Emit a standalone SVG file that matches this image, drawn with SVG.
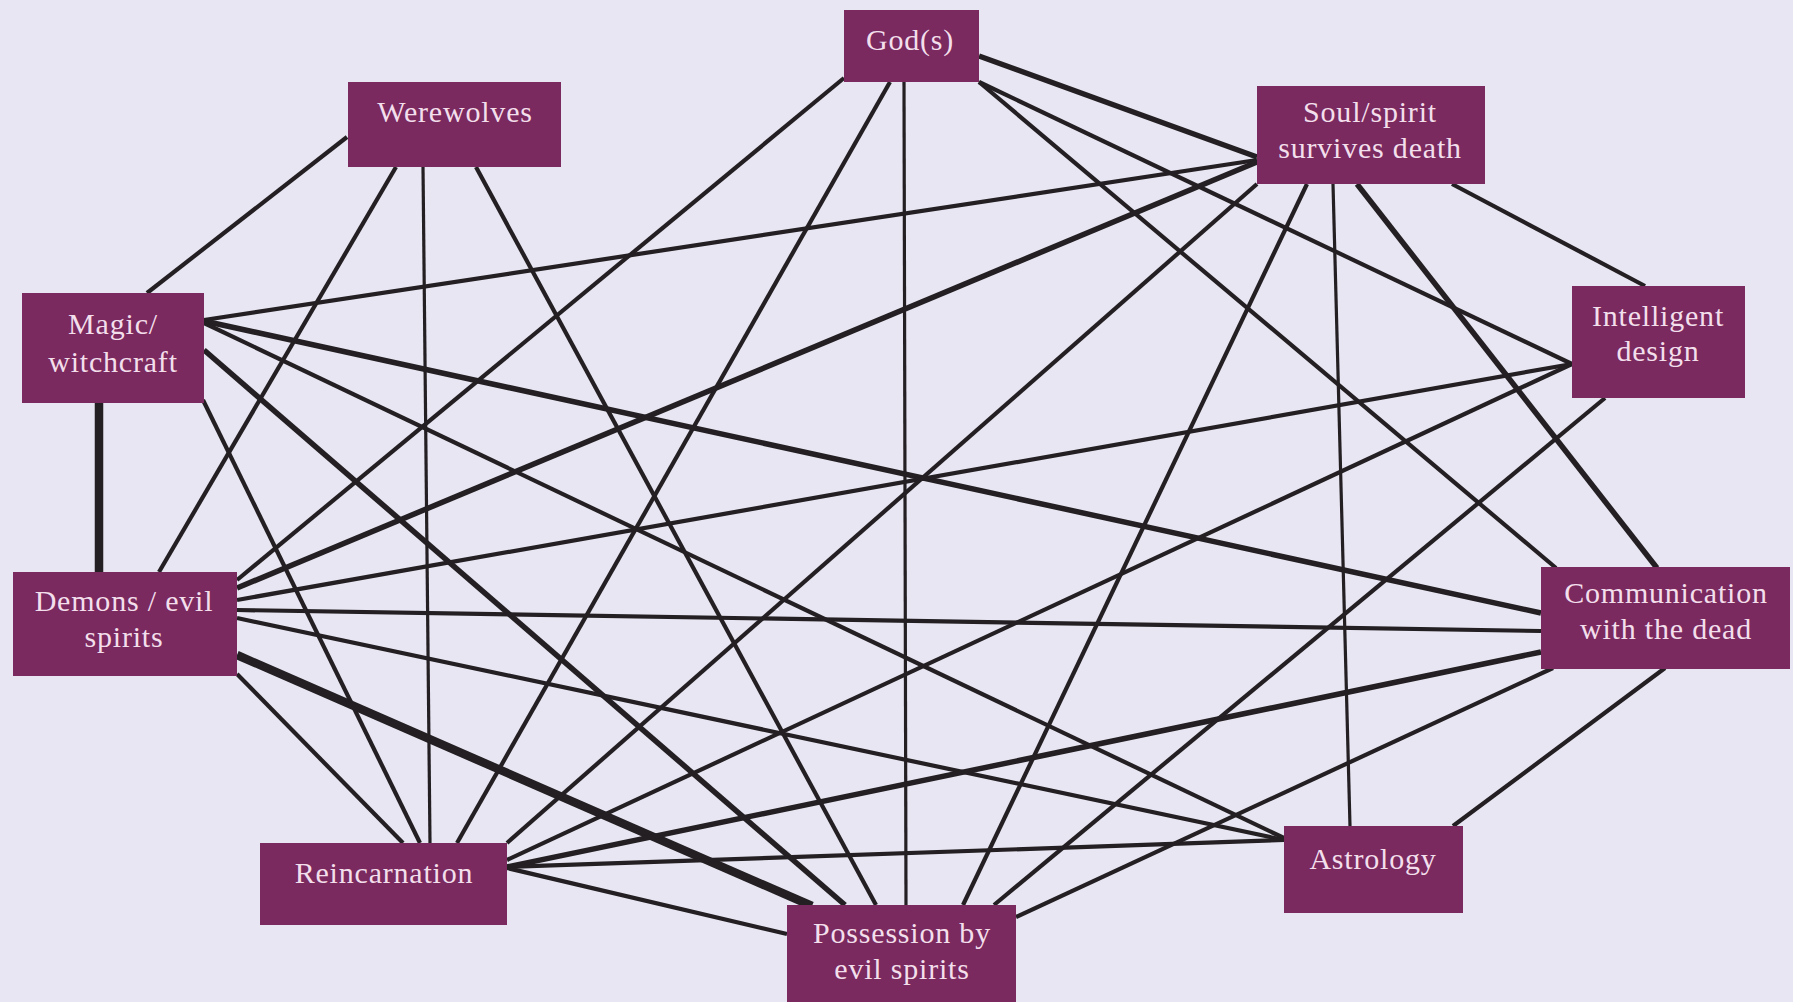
<svg xmlns="http://www.w3.org/2000/svg" width="1793" height="1002" viewBox="0 0 1793 1002">
<style>
.bg{fill:#e8e6f2}
.box{fill:#7a2a5e}
.lbl{font-family:"Liberation Serif","Times New Roman",serif;font-size:30px;letter-spacing:0.8px;fill:#f3dfec;text-anchor:middle}
.e{stroke:#231f22;stroke-width:4.2;stroke-linecap:butt;fill:none}
.t{stroke-width:3.2}
.k{stroke-width:5.5}
.kk{stroke-width:8.5}
</style>
<rect class="bg" x="0" y="0" width="1793" height="1002"/>
<g id="connectors">
<line class="e" x1="844" y1="78" x2="237" y2="580"/>
<line class="e" x1="890" y1="82" x2="457" y2="843"/>
<line class="e t" x1="904" y1="82" x2="906" y2="905"/>
<line class="e k" x1="979" y1="56" x2="1257" y2="157"/>
<line class="e" x1="979" y1="82" x2="1572" y2="364"/>
<line class="e" x1="979" y1="82" x2="1556" y2="568"/>
<line class="e" x1="347" y1="137" x2="147" y2="293"/>
<line class="e" x1="396" y1="167" x2="159" y2="572"/>
<line class="e t" x1="423" y1="167" x2="430" y2="843"/>
<line class="e" x1="476" y1="167" x2="876" y2="905"/>
<line class="e" x1="204" y1="320" x2="1257" y2="160"/>
<line class="e k" x1="204" y1="321" x2="1541" y2="613"/>
<line class="e" x1="204" y1="323" x2="1284" y2="838"/>
<line class="e k" x1="204" y1="350" x2="845" y2="905"/>
<line class="e" x1="203" y1="400" x2="420" y2="843"/>
<line class="e kk" x1="99" y1="403" x2="99" y2="572"/>
<line class="e k" x1="237" y1="588" x2="1257" y2="162"/>
<line class="e" x1="237" y1="600" x2="1572" y2="364"/>
<line class="e" x1="237" y1="610" x2="1541" y2="631"/>
<line class="e" x1="237" y1="618" x2="1284" y2="840"/>
<line class="e kk" x1="237" y1="655" x2="812" y2="906"/>
<line class="e" x1="237" y1="674" x2="403" y2="843"/>
<line class="e" x1="507" y1="843" x2="1257" y2="184"/>
<line class="e" x1="507" y1="860" x2="1572" y2="364"/>
<line class="e k" x1="507" y1="867" x2="1541" y2="652"/>
<line class="e" x1="507" y1="867" x2="1284" y2="840"/>
<line class="e" x1="507" y1="868" x2="787" y2="934"/>
<line class="e" x1="1307" y1="184" x2="963" y2="905"/>
<line class="e t" x1="1333" y1="184" x2="1350" y2="826"/>
<line class="e k" x1="1357" y1="184" x2="1657" y2="568"/>
<line class="e" x1="1452" y1="184" x2="1645" y2="286"/>
<line class="e" x1="1605" y1="398" x2="994" y2="905"/>
<line class="e" x1="1553" y1="668" x2="1016" y2="917"/>
<line class="e" x1="1453" y1="826" x2="1665" y2="668"/>
</g>
<g id="node-gods"><rect class="box" x="844" y="10" width="135" height="72"/><text class="lbl" x="910" y="50">God(s)</text></g>
<g id="node-werewolves"><rect class="box" x="348" y="82" width="213" height="85"/><text class="lbl" x="455" y="122">Werewolves</text></g>
<g id="node-soul"><rect class="box" x="1257" y="86" width="228" height="98"/><text class="lbl" x="1370" y="122">Soul/spirit</text><text class="lbl" x="1370" y="158">survives death</text></g>
<g id="node-magic"><rect class="box" x="22" y="293" width="182" height="110"/><text class="lbl" x="113" y="334">Magic/</text><text class="lbl" x="113" y="372">witchcraft</text></g>
<g id="node-intelligent"><rect class="box" x="1572" y="286" width="173" height="112"/><text class="lbl" x="1658" y="326">Intelligent</text><text class="lbl" x="1658" y="361">design</text></g>
<g id="node-demons"><rect class="box" x="13" y="572" width="224" height="104"/><text class="lbl" x="124" y="611">Demons / evil</text><text class="lbl" x="124" y="647">spirits</text></g>
<g id="node-communication"><rect class="box" x="1541" y="567" width="249" height="102"/><text class="lbl" x="1666" y="603">Communication</text><text class="lbl" x="1666" y="639">with the dead</text></g>
<g id="node-reincarnation"><rect class="box" x="260" y="843" width="247" height="82"/><text class="lbl" x="384" y="883">Reincarnation</text></g>
<g id="node-astrology"><rect class="box" x="1284" y="826" width="179" height="87"/><text class="lbl" x="1373" y="869">Astrology</text></g>
<g id="node-possession"><rect class="box" x="787" y="905" width="229" height="97"/><text class="lbl" x="902" y="943">Possession by</text><text class="lbl" x="902" y="979">evil spirits</text></g>
</svg>
